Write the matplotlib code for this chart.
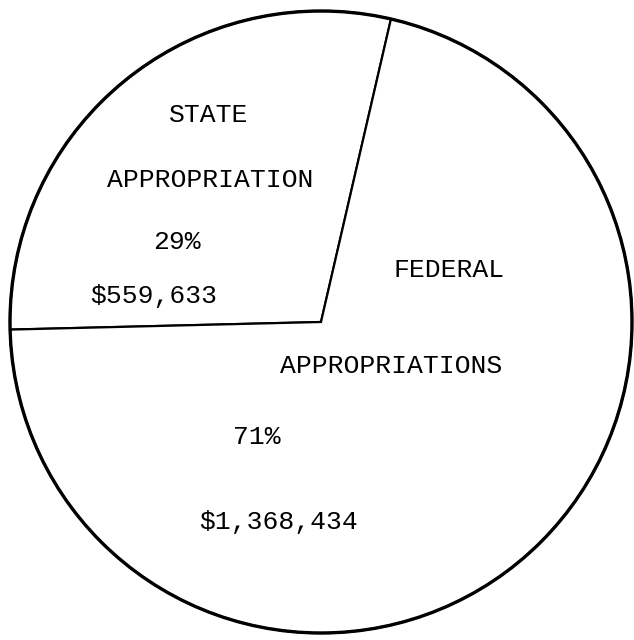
import matplotlib
matplotlib.use("Agg")
from matplotlib import pyplot as plt
from matplotlib.patches import Circle

# appropriation shares (percent) and dollar amounts
sources = ['STATE', 'FEDERAL']
shares = [29, 71]
amounts = ['$559,633', '$1,368,434']

plt.rcParams['font.family'] = ['Liberation Mono', 'DejaVu Sans Mono']

f = plt.figure(figsize=(6.34, 6.40), dpi=100)
ax = f.add_axes([0, 0, 1, 1])

cx, cy, r = 321, 318, 311
ax.pie(shares, center=(cx, cy), radius=r, startangle=77, counterclock=True,
       colors=['white', 'white'],
       wedgeprops=dict(edgecolor='black', linewidth=1.6), frame=True)
ax.add_patch(Circle((cx, cy), r, fill=False, edgecolor='black', linewidth=2.4))
ax.set_xlim(0, 634)
ax.set_ylim(0, 640)
ax.set_aspect('equal')
ax.axis('off')

fs = 19
# state slice labels
ax.text(209, 640 - 115, sources[0], fontsize=fs, ha='center', va='center')
ax.text(210, 640 - 180, 'APPROPRIATION', fontsize=fs, ha='center', va='center')
ax.text(177, 640 - 242, '%d%%' % shares[0], fontsize=fs, ha='center', va='center')
ax.text(154, 640 - 296, amounts[0], fontsize=fs, ha='center', va='center')

# federal slice labels
ax.text(449, 640 - 270, sources[1], fontsize=fs, ha='center', va='center')
ax.text(391, 640 - 366, 'APPROPRIATIONS', fontsize=fs, ha='center', va='center')
ax.text(257, 640 - 437, '%d%%' % shares[1], fontsize=fs, ha='center', va='center')
ax.text(279, 640 - 522, amounts[1], fontsize=fs, ha='center', va='center')

f.savefig('out.png', dpi=100, facecolor='white')
